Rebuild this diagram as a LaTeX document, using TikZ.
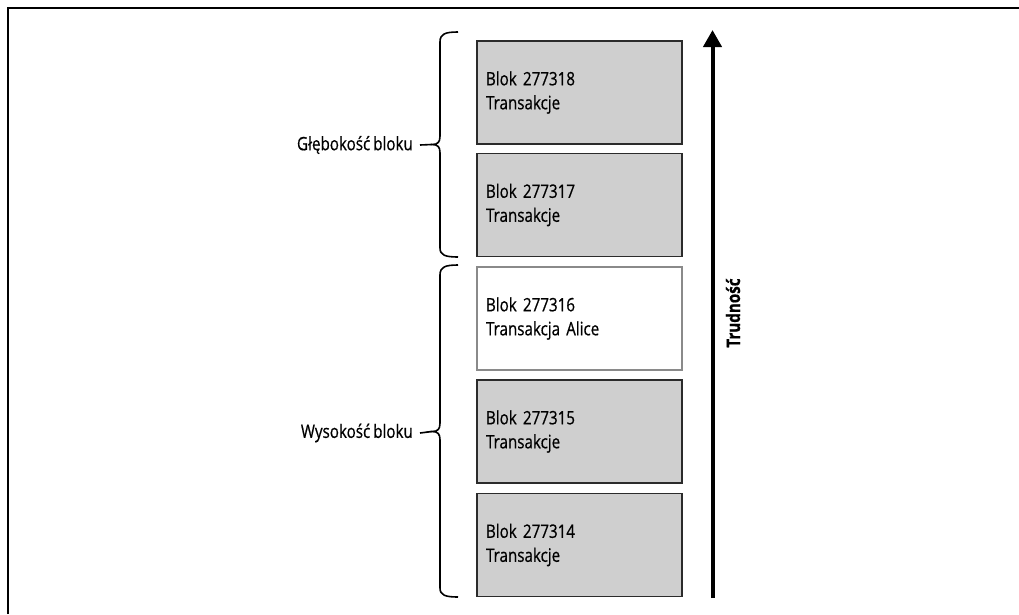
\documentclass[tikz,border=0pt]{standalone}
\usepackage{fontspec}
\setmainfont{Open Sans}[FakeStretch=0.82, FakeBold=0.6, WordSpace=0.75]
\usetikzlibrary{arrows.meta}
\definecolor{blockgray}{HTML}{CFCFCF}
\definecolor{edgedark}{HTML}{2B2B2B}
\definecolor{edgelight}{HTML}{8A8A8A}
\tikzset{
  block/.style={rectangle, draw=edgedark, line width=1.8pt, fill=blockgray,
    minimum width=205pt, minimum height=103pt, text width=187pt,
    inner xsep=9pt, inner ysep=0pt, align=left,
    font=\fontsize{18.5}{24}\selectfont},
  whiteblock/.style={block, draw=edgelight, fill=white},
  sidelabel/.style={font=\fontsize{18.5}{24}\selectfont, inner sep=0pt, anchor=east},
  bracepath/.style={line width=1.6pt, black},
  frameline/.style={line width=2.5pt, black}
}
\begin{document}
\begin{tikzpicture}[x=1pt,y=-1pt]
\useasboundingbox (0,0) rectangle (1019,614);
% frame
\coordinate (f1) at (8,614);
\coordinate (f2) at (8,8);
\coordinate (f3) at (1019,8);
\draw[frameline] (f1) -- (f2) -- (f3);

% blocks
\node[block]      (b18) at (579.5,92.5)  {Blok 277318\\Transakcje\\[2pt]};
\node[block]      (b17) at (579.5,205)   {Blok 277317\\Transakcje\\[2pt]};
\node[whiteblock] (b16) at (579.5,318.5) {Blok 277316\\Transakcja Alice\\[2pt]};
\node[block]      (b15) at (579.5,431.5) {Blok 277315\\Transakcje\\[2pt]};
\node[block]      (b14) at (579.5,545)   {Blok 277314\\Transakcje\\[2pt]};

% braces
\coordinate (tipA) at (432,144.5);
\coordinate (tipB) at (432,431.5);
\draw[bracepath] (458,32) .. controls (445,32) and (440,34) .. (440,42)
  -- (440,136) .. controls (440,142) and (438,144.5) .. (tipA)
  .. controls (438,144.5) and (440,147) .. (440,153)
  -- (440,248) .. controls (440,255) and (445,257) .. (458,257);
\draw[bracepath] (458,265) .. controls (445,265) and (440,267) .. (440,275)
  -- (440,423) .. controls (440,429) and (438,431.5) .. (tipB)
  .. controls (438,431.5) and (440,434) .. (440,440)
  -- (440,588) .. controls (440,595) and (445,597) .. (458,597);

% labels
\node[sidelabel] (glab) at (413,145) {Głębokość bloku};
\node[sidelabel] (wlab) at (413,433) {Wysokość bloku};
\draw[bracepath] (glab.east) ++(7pt,0) coordinate (gs) -- (tipA);
\draw[bracepath] (wlab.east) ++(7pt,0) coordinate (ws) -- (tipB);

% difficulty arrow
\coordinate (abot) at (712.5,598);
\coordinate (atop) at (712.5,30);
\draw[line width=4pt, -{Triangle[length=17pt,width=18pt]}] (abot) -- (atop);
\node[font=\fontsize{18.5}{24}\selectfont\bfseries, rotate=90, inner sep=0pt] (trud) at (733,313) {Trudność};
\end{tikzpicture}
\end{document}
